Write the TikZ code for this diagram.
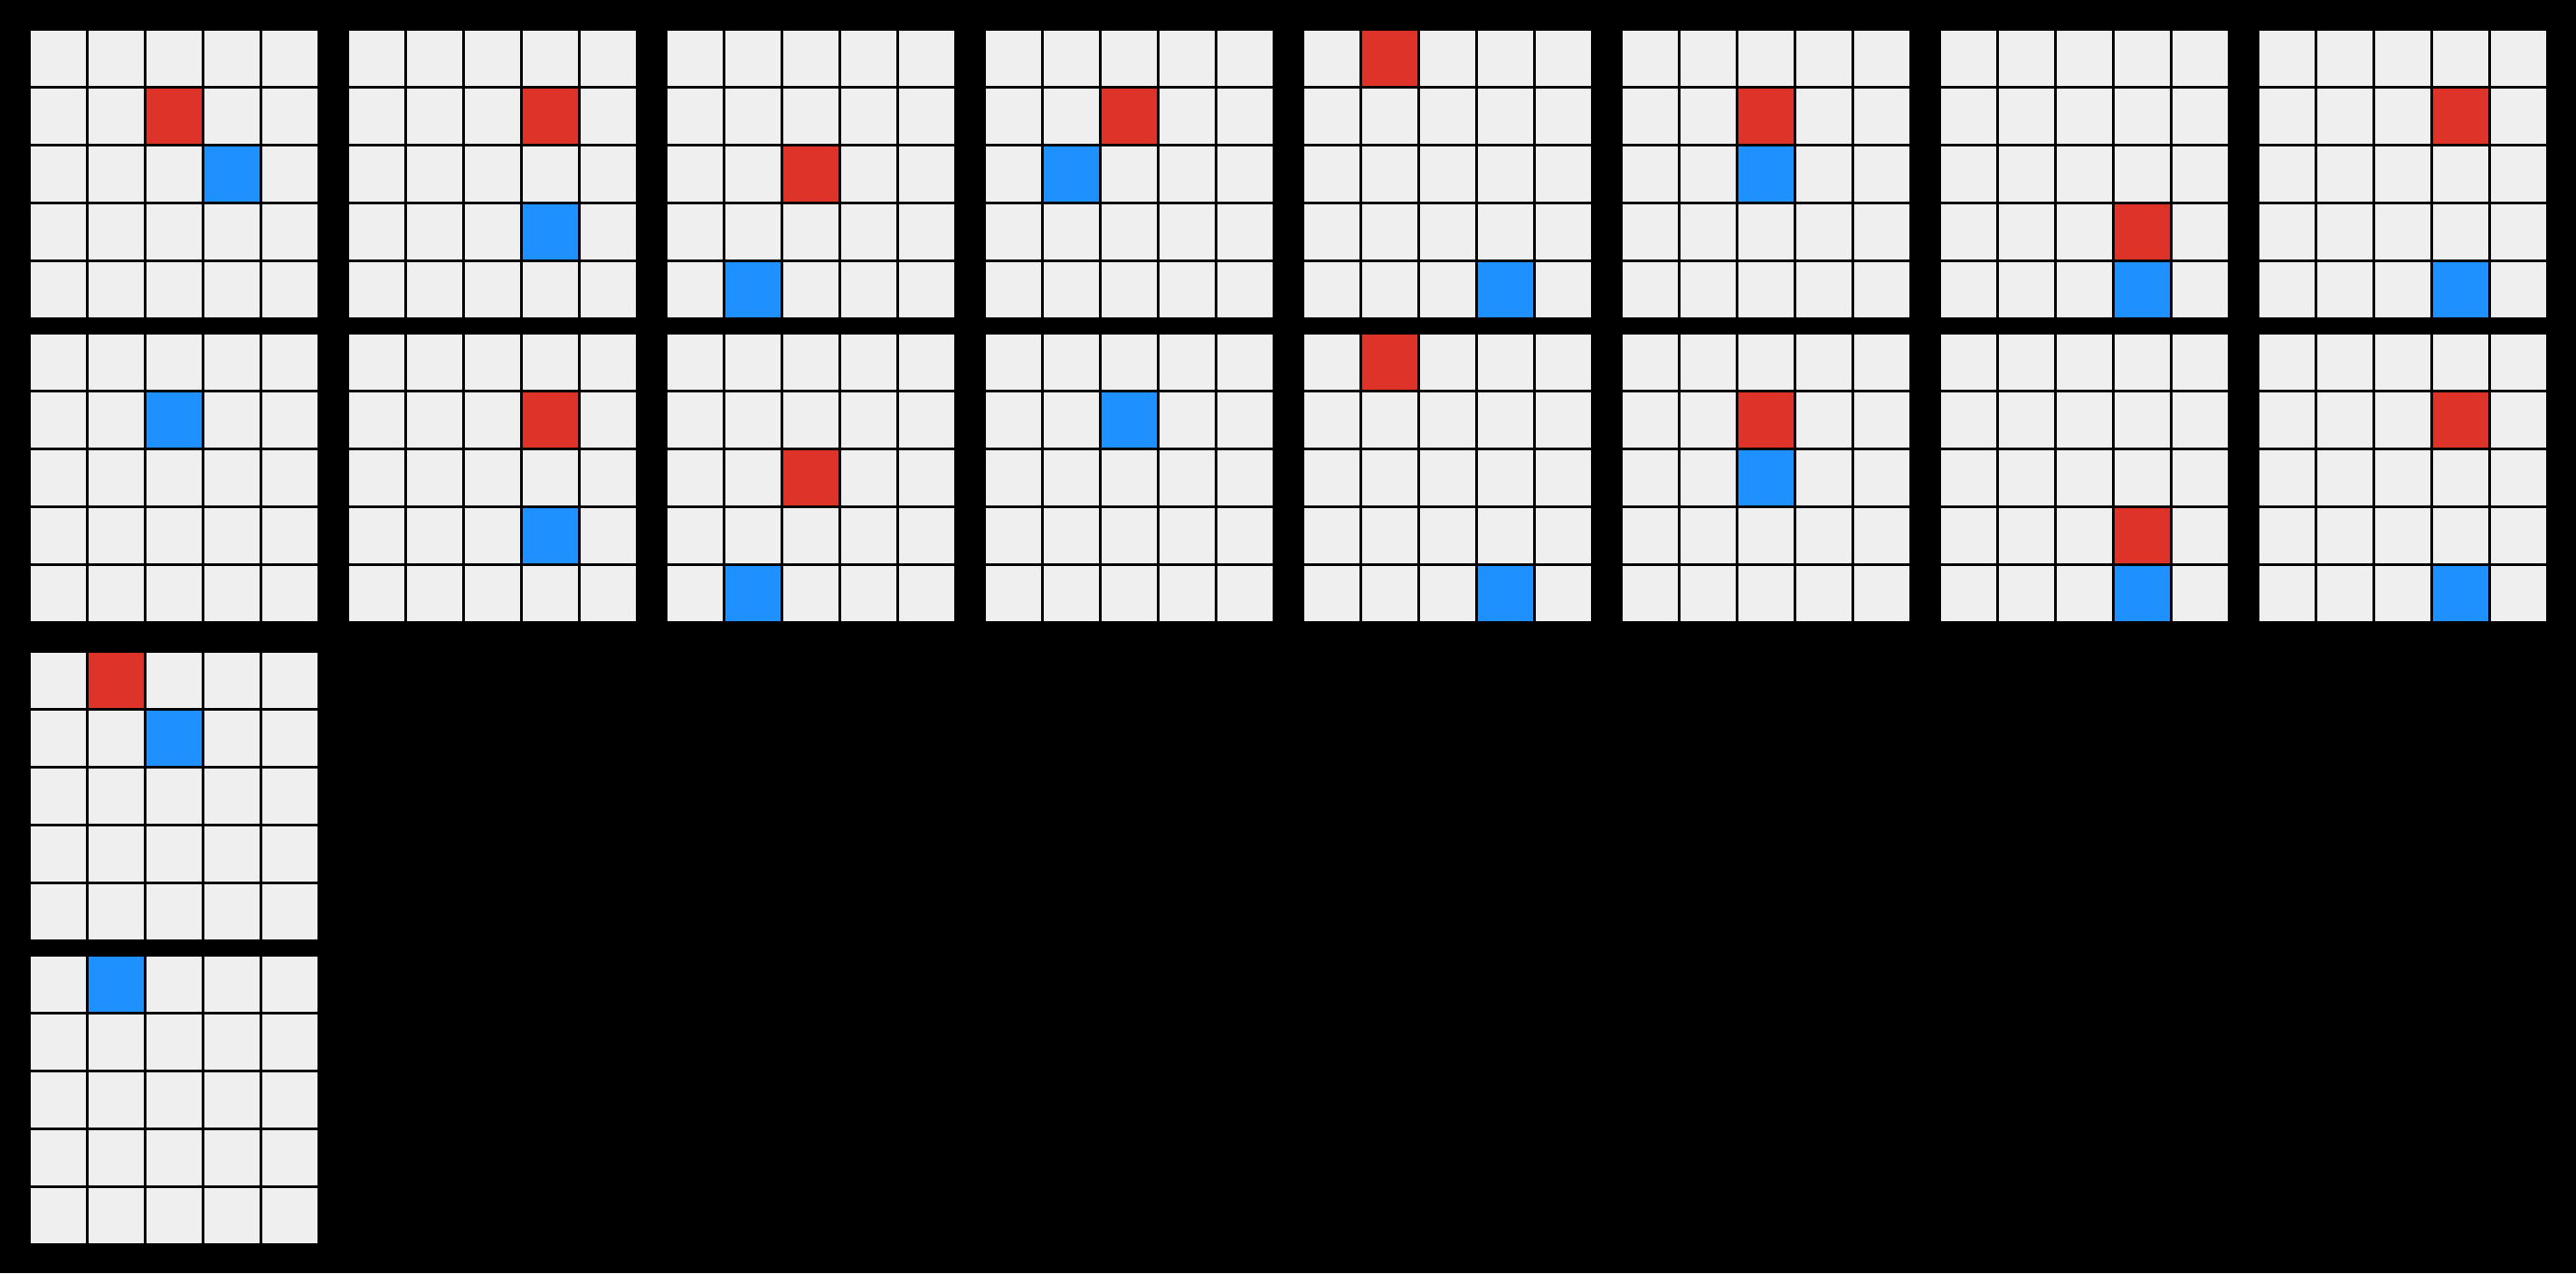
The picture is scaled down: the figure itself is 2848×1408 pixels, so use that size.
\documentclass[tikz,border=0pt]{standalone}
\usepackage{tikz}

\definecolor{cellgray}{RGB}{239,239,239}
\definecolor{redcell}{RGB}{221,51,40}
\definecolor{bluecell}{RGB}{30,144,255}

% one coloured cell: colour, board column, board top, row, column
\newcommand{\boardcell}[5]{%
  \fill[#1] ({34+352*#2+64*#5},{#3+64*#4}) rectangle ++(61,61);}

\begin{document}
\begin{tikzpicture}[x=0.01cm,y=-0.01cm]  % one unit is one pixel, y going down
    % black background, also fixes the page size
    \fill[black] (0,0) rectangle (2848,1408);

    % empty 5x5 boards: two full rows, then one board each below
    \foreach \by/\nb in {34/7,370/7,722/0,1058/0} {
      \foreach \i in {0,...,\nb} {
        \foreach \r in {0,...,4} {
          \foreach \c in {0,...,4} {
            \boardcell{cellgray}{\i}{\by}{\r}{\c}
          }
        }
      }
    }

    % red cells (board, top, row, column)
    \foreach \i/\by/\r/\c in {0/34/1/2, 1/34/1/3, 2/34/2/2, 3/34/1/2,
                              4/34/0/1, 5/34/1/2, 6/34/3/3, 7/34/1/3,
                              1/370/1/3, 2/370/2/2, 4/370/0/1, 5/370/1/2,
                              6/370/3/3, 7/370/1/3, 0/722/0/1} {
      \boardcell{redcell}{\i}{\by}{\r}{\c}
    }

    % blue cells
    \foreach \i/\by/\r/\c in {0/34/2/3, 1/34/3/3, 2/34/4/1, 3/34/2/1,
                              4/34/4/3, 5/34/2/2, 6/34/4/3, 7/34/4/3,
                              0/370/1/2, 1/370/3/3, 2/370/4/1, 3/370/1/2,
                              4/370/4/3, 5/370/2/2, 6/370/4/3, 7/370/4/3,
                              0/722/1/2, 0/1058/0/1} {
      \boardcell{bluecell}{\i}{\by}{\r}{\c}
    }
\end{tikzpicture}
\end{document}
